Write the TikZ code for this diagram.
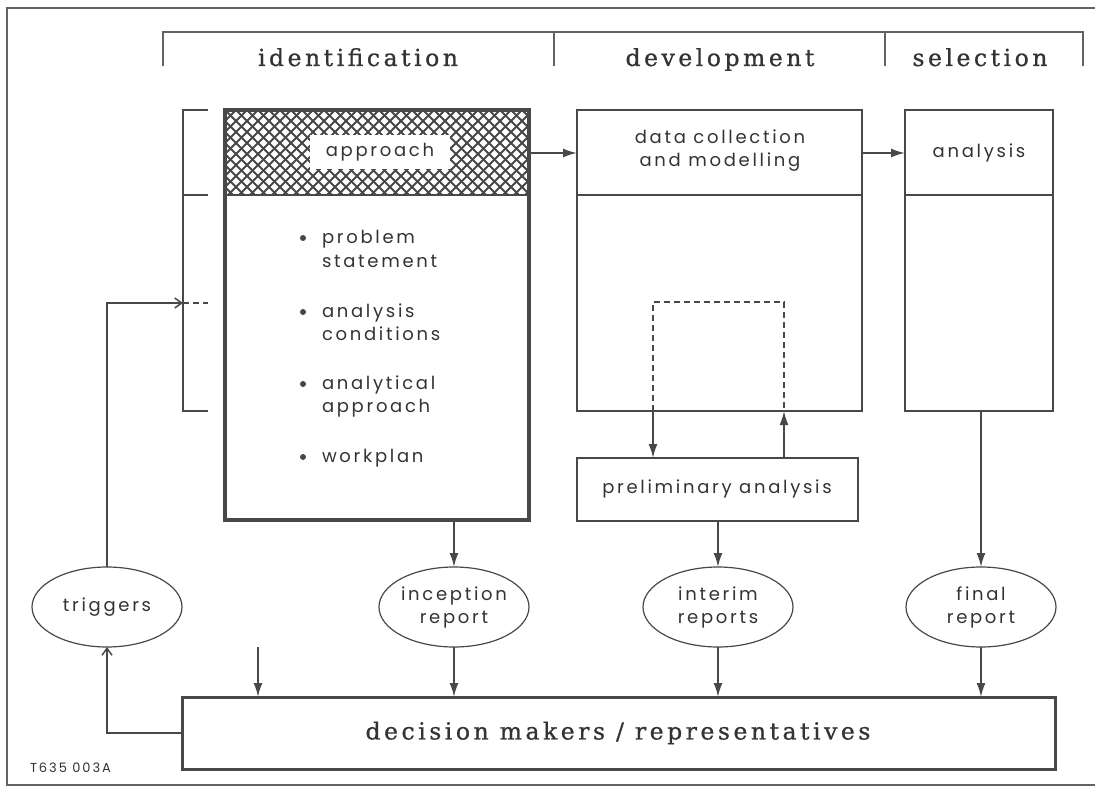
\documentclass[tikz,border=0pt]{standalone}
\usepackage{fontspec}
\usetikzlibrary{arrows.meta,calc,shapes.geometric}
\newfontfamily\headfont{DejaVu Serif}[LetterSpace=15,FakeBold=0.8]
\newfontfamily\labelfont{Poppins}[LetterSpace=15]
\definecolor{ink}{HTML}{484848}
\definecolor{txt}{HTML}{333333}

\begin{document}
\begin{tikzpicture}[x=1pt,y=-1pt,
  every node/.style={inner sep=0pt, outer sep=0pt, text=txt},
  frameline/.style={draw=ink!85, line width=1.1pt},
  panel/.style={draw=ink, line width=2.4pt, anchor=north west},
  heavypanel/.style={draw=ink, line width=3.6pt, anchor=north west},
  divider/.style={draw=ink, line width=1.3pt},
  head/.style={font=\headfont\fontsize{23.5}{27}\selectfont, anchor=base},
  lbl/.style={font=\labelfont\fontsize{18}{23}\selectfont, align=center},
  oval/.style={ellipse, draw=ink, line width=1.2pt, minimum width=150pt,
               minimum height=80pt, lbl},
  flow/.style={draw=ink, line width=1.9pt, -{Latex[length=14pt,width=9pt]}},
  thinflow/.style={draw=ink, line width=1.2pt,
                   -{Straight Barb[length=7pt,width=10pt,line width=1.5pt]}},
  loopline/.style={draw=ink, line width=1.2pt, dash pattern=on 6pt off 4pt},
]
\useasboundingbox (0,0) rectangle (1095,789);
\fill[white] (0,0) rectangle (1095,789);

% outer frame
\draw[frameline] (1095,8) -- (7,8) -- (7,785) -- (1095,785);

% phase header
\draw[frameline] (163,66) -- (163,32) -- (1083,32) -- (1083,66);
\draw[frameline] (554,32) -- (554,66);
\draw[frameline] (885,32) -- (885,66);
\node[head] (hid)  at (358,66) {identification};
\node[head] (hdev) at (720,66) {development};
\node[head] (hsel) at (980,66) {selection};

% identification panel: cross-hatched heading band
\begin{scope}
  \clip (225,110) rectangle (529,195);
  \foreach \c in {-110,-99,...,420} {
    \draw[ink, line width=2.1pt] (225+\c,110) -- ++(100,100);
    \draw[ink, line width=2.1pt] (225+\c,110) -- ++(-100,100);
  }
\end{scope}
\fill[white] (310,135) rectangle (450,169);
\node[lbl] (appr) at (380,152) {approach};
\node[heavypanel, minimum width=304pt, minimum height=410pt] (idbox) at (225,110) {};
\draw[divider, line width=1.6pt] ($(idbox.north west)+(0,85)$) -- ($(idbox.north east)+(0,85)$);

% bullet items
\tikzset{item/.style={lbl, anchor=base west}}
\foreach \y in {238,312,384,457} \fill[ink] (303,\y) circle (3pt);
\node[item] (i1a) at (322,243) {problem};
\node[item] (i1b) at (322,267) {statement};
\node[item] (i2a) at (322,317) {analysis};
\node[item] (i2b) at (322,340) {conditions};
\node[item] (i3a) at (322,389) {analytical};
\node[item] (i3b) at (322,412) {approach};
\node[item] (i4a) at (322,462) {workplan};

% left bracket with trigger input
\draw[ink, line width=2pt] (208,110) -- (183,110) -- (183,411) -- (208,411);
\draw[ink, line width=2pt] (183,195) -- (208,195);
\coordinate (brk) at (183,303);
\coordinate (brkend) at (208,303);

% development panel
\node[panel, minimum width=285pt, minimum height=301pt] (devbox) at (577,110) {};
\draw[divider] ($(devbox.north west)+(0,85)$) -- ($(devbox.north east)+(0,85)$);
\node[lbl] (devtxt) at (720,151) {data collection\\and modelling};

% selection panel
\node[panel, minimum width=148pt, minimum height=301pt] (selbox) at (905,110) {};
\draw[divider] ($(selbox.north west)+(0,85)$) -- ($(selbox.north east)+(0,85)$);
\node[lbl] (seltxt) at (979,153) {analysis};

% preliminary analysis
\node[panel, minimum width=281pt, minimum height=63pt] (prelim) at (577,458) {};
\node[lbl] (pretxt) at (717,489) {preliminary analysis};

% decision makers
\node[panel, line width=3pt, minimum width=873pt, minimum height=72pt] (decision) at (182,697) {};
\node[head, anchor=center] (dectxt) at (618,733) {decision makers / representatives};

% reports and triggers
\node[oval] (triggers)  at (107,607) {triggers};
\node[oval] (inception) at (454,607) {inception\\report};
\node[oval] (interim)   at (718,607) {interim\\reports};
\node[oval] (final)     at (981,607) {final\\report};

% flow between panels
\draw[flow] ([yshift=-43pt]idbox.north east) -- ([yshift=-43pt]devbox.north west);
\draw[flow] ([yshift=-43pt]devbox.north east) -- ([yshift=-43pt]selbox.north west);

% iteration loop between modelling and preliminary analysis
\coordinate (lpA) at (653,302);
\coordinate (lpB) at (784,302);
\draw[loopline] (lpA |- devbox.south) -- (lpA) -- (lpB) -- (lpB |- devbox.south);
\draw[flow] (lpA |- devbox.south) -- (lpA |- prelim.north);
\draw[flow] (lpB |- prelim.north) -- (lpB |- devbox.south);

% outputs to reports
\draw[flow] (inception.north |- idbox.south) -- (inception.north);
\draw[flow] (interim.north |- prelim.south) -- (interim.north);
\draw[flow] (final.north |- selbox.south) -- (final.north);

% reports to decision makers
\draw[flow] (inception.south) -- (inception.south |- decision.north);
\draw[flow] (interim.south) -- (interim.south |- decision.north);
\draw[flow] (final.south) -- (final.south |- decision.north);
\coordinate (feed) at (258,647);
\draw[flow] (feed) -- (feed |- decision.north);

% feedback loop through triggers
\draw[thinflow] (decision.west) -| (triggers.south);
\draw[thinflow] (triggers.north) |- (brk);
\draw[loopline] (brk) -- (brkend);

% drawing number
\node[font=\labelfont\fontsize{13}{15}\selectfont, anchor=base west] (dwg) at (30,772) {T635 003A};
\end{tikzpicture}
\end{document}
